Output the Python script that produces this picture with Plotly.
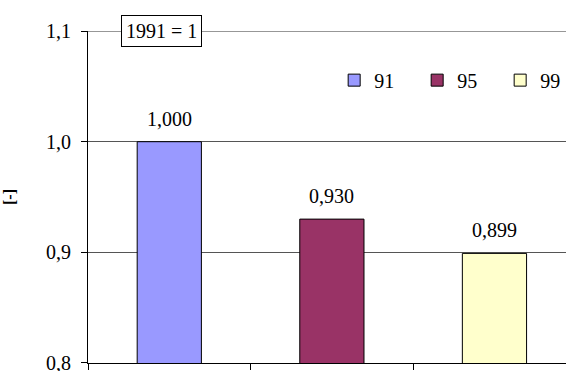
import plotly.graph_objects as go

categories = ["91", "95", "99"]
values = [1.000, 0.930, 0.899]
colors = ["#9999FF", "#993366", "#FFFFCC"]
value_labels = ["1,000", "0,930", "0,899"]
y_ticks = [0.8, 0.9, 1.0, 1.1]
y_tick_text = ["0,8", "0,9", "1,0", "1,1"]

FONT = "Liberation Serif"

fig = go.Figure()
for i, (cat, val, col) in enumerate(zip(categories, values, colors)):
    fig.add_trace(go.Bar(
        x=[i], y=[val], name=cat, width=0.395,
        marker=dict(color=col, line=dict(color="#000000", width=1)),
        showlegend=True,
    ))
    fig.add_annotation(x=i, y=val, text=value_labels[i], showarrow=False,
                       yanchor="bottom", yshift=10,
                       font=dict(family=FONT, size=20, color="#000"))

# top gridline at the maximum tick
fig.add_shape(type="line", xref="paper", yref="y", x0=0, x1=1,
              y0=y_ticks[-1], y1=y_ticks[-1], line=dict(color="#555555", width=1),
              layer="below")

fig.add_annotation(xref="paper", yref="paper", x=0.069, y=1.0,
                   text="1991 = 1", showarrow=False, xanchor="left", yanchor="middle",
                   bgcolor="white", bordercolor="black", borderwidth=1, borderpad=4,
                   font=dict(family=FONT, size=20, color="#000"))

fig.update_layout(
    width=566, height=371,
    margin=dict(l=88, r=0, t=31, b=8, autoexpand=False),
    paper_bgcolor="white", plot_bgcolor="white",
    barmode="overlay",
    font=dict(family=FONT, size=20, color="#000"),
    legend=dict(orientation="h", x=0.515, y=0.852, xanchor="left", yanchor="middle",
                font=dict(family=FONT, size=20), itemwidth=30,
                entrywidth=38, entrywidthmode="pixels",
                bgcolor="rgba(0,0,0,0)", tracegroupgap=0),
    xaxis=dict(range=[-0.5, 2.44], showgrid=False, zeroline=False,
               tickvals=[-0.5, 0.5, 1.5], ticktext=["", "", ""],
               ticks="outside", ticklen=6, tickcolor="#000",
               showline=True, linecolor="#000", linewidth=1),
    yaxis=dict(range=[0.7999, 1.1001], tickvals=y_ticks, ticktext=y_tick_text,
               ticks="outside", ticklen=6, tickcolor="#000",
               showline=True, linecolor="#000", linewidth=1,
               showgrid=True, gridcolor="#555555", gridwidth=1, zeroline=False,
               ticklabelstandoff=6, ticklabeloverflow="allow",
               title=dict(text="<b>[-]</b>", standoff=26, font=dict(family=FONT, size=16))),
)

fig.write_html("out.html")
